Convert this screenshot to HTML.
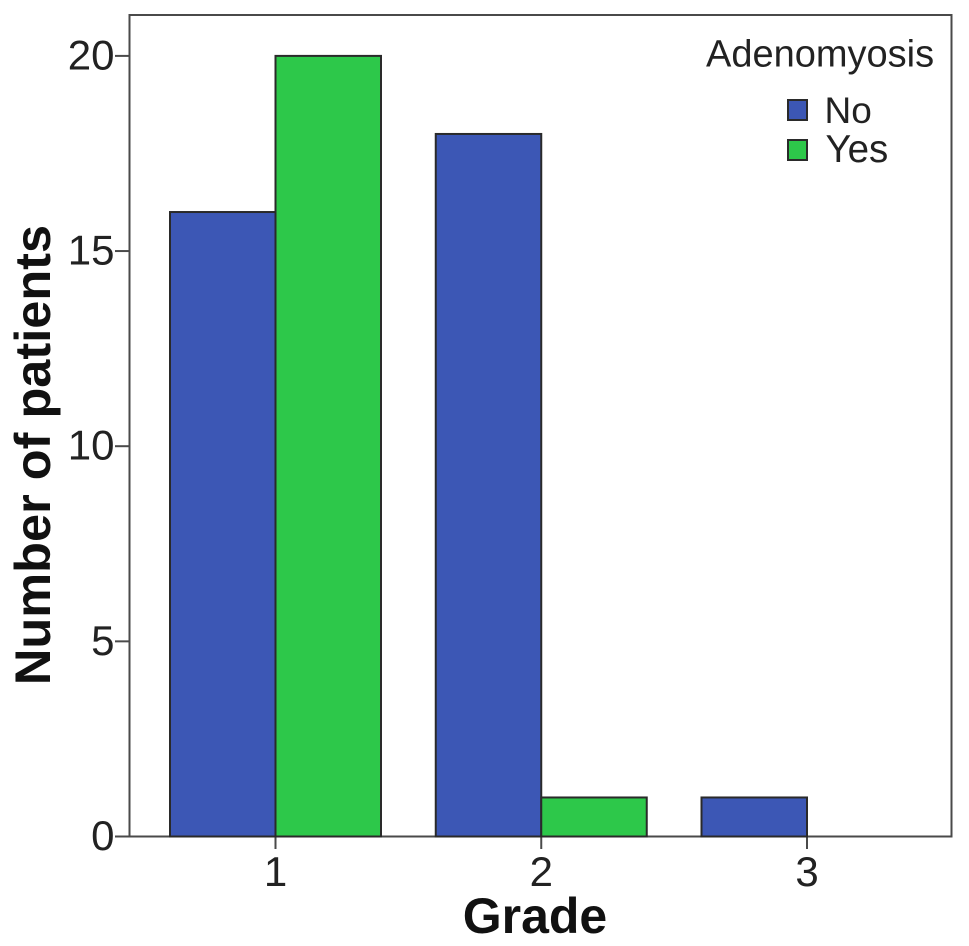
<!DOCTYPE html>
<html>
<head>
<meta charset="utf-8">
<style>
html,body{margin:0;padding:0;background:#fff;}
svg{display:block;font-family:"Liberation Sans",sans-serif;}
</style>
</head>
<body>
<svg id="chart" width="969" height="946" viewBox="0 0 969 946" xmlns="http://www.w3.org/2000/svg">
<rect x="129.5" y="15" width="822" height="821.5" fill="#fff" stroke="#4a4a4a" stroke-width="2"/>
<g id="marks"></g>
<text transform="translate(50,455) rotate(-90)" text-anchor="middle" font-size="50.5" font-weight="bold" fill="#111">Number of patients</text>
<text x="535" y="933" text-anchor="middle" font-size="50" font-weight="bold" fill="#111">Grade</text>
<g>
<text x="706" y="66.5" font-size="38" fill="#222">Adenomyosis</text>
<rect x="788" y="100" width="19" height="20" fill="#3c57b5" stroke="#2a2a2a" stroke-width="2"/>
<text x="824.5" y="123" font-size="37" fill="#222">No</text>
<rect x="788" y="140" width="19" height="20" fill="#2dc84a" stroke="#2a2a2a" stroke-width="2"/>
<text x="825.5" y="162" font-size="38.5" fill="#222">Yes</text>
</g>
</svg>
<script>
const categories = ['1', '2', '3'];
const seriesNo = [16, 18, 1];
const seriesYes = [20, 1, 0];
const yTicks = [0, 5, 10, 15, 20];

const NS = 'http://www.w3.org/2000/svg';
const marks = document.getElementById('marks');
const baseY = 836.5;
const y = v => baseY - v * 39.03;
const xCenter = i => 275.5 + i * 265.75;
const barW = 105.5;

function make(tag, attrs, text) {
  const el = document.createElementNS(NS, tag);
  for (const k in attrs) el.setAttribute(k, attrs[k]);
  if (text !== undefined) el.textContent = text;
  marks.appendChild(el);
  return el;
}

yTicks.forEach(t => {
  const line = make('line', {x1: 115, x2: 129.5, y1: y(t), y2: y(t), stroke: '#4a4a4a', 'stroke-width': 2});
  
  
  const label = make('text', {x: 114.5, y: y(t) + 13.5, 'text-anchor': 'end', 'font-size': 42, fill: '#222'}, String(t));
  
  
});

categories.forEach((c, i) => {
  const tick = make('line', {x1: xCenter(i), x2: xCenter(i), y1: baseY, y2: 849, stroke: '#4a4a4a', 'stroke-width': 2});
  
  
  const label = make('text', {x: xCenter(i), y: 886, 'text-anchor': 'middle', 'font-size': 42, fill: '#222'}, c);
  
  
  if (seriesNo[i] > 0) {
    const b = make('rect', {x: xCenter(i) - barW, y: y(seriesNo[i]), width: barW, height: baseY - y(seriesNo[i]), fill: '#3c57b5', stroke: '#2a2a2a', 'stroke-width': 2});
    
    
  }
  if (seriesYes[i] > 0) {
    const b = make('rect', {x: xCenter(i), y: y(seriesYes[i]), width: barW, height: baseY - y(seriesYes[i]), fill: '#2dc84a', stroke: '#2a2a2a', 'stroke-width': 2});
    
    
  }
});
</script>
</body>
</html>
